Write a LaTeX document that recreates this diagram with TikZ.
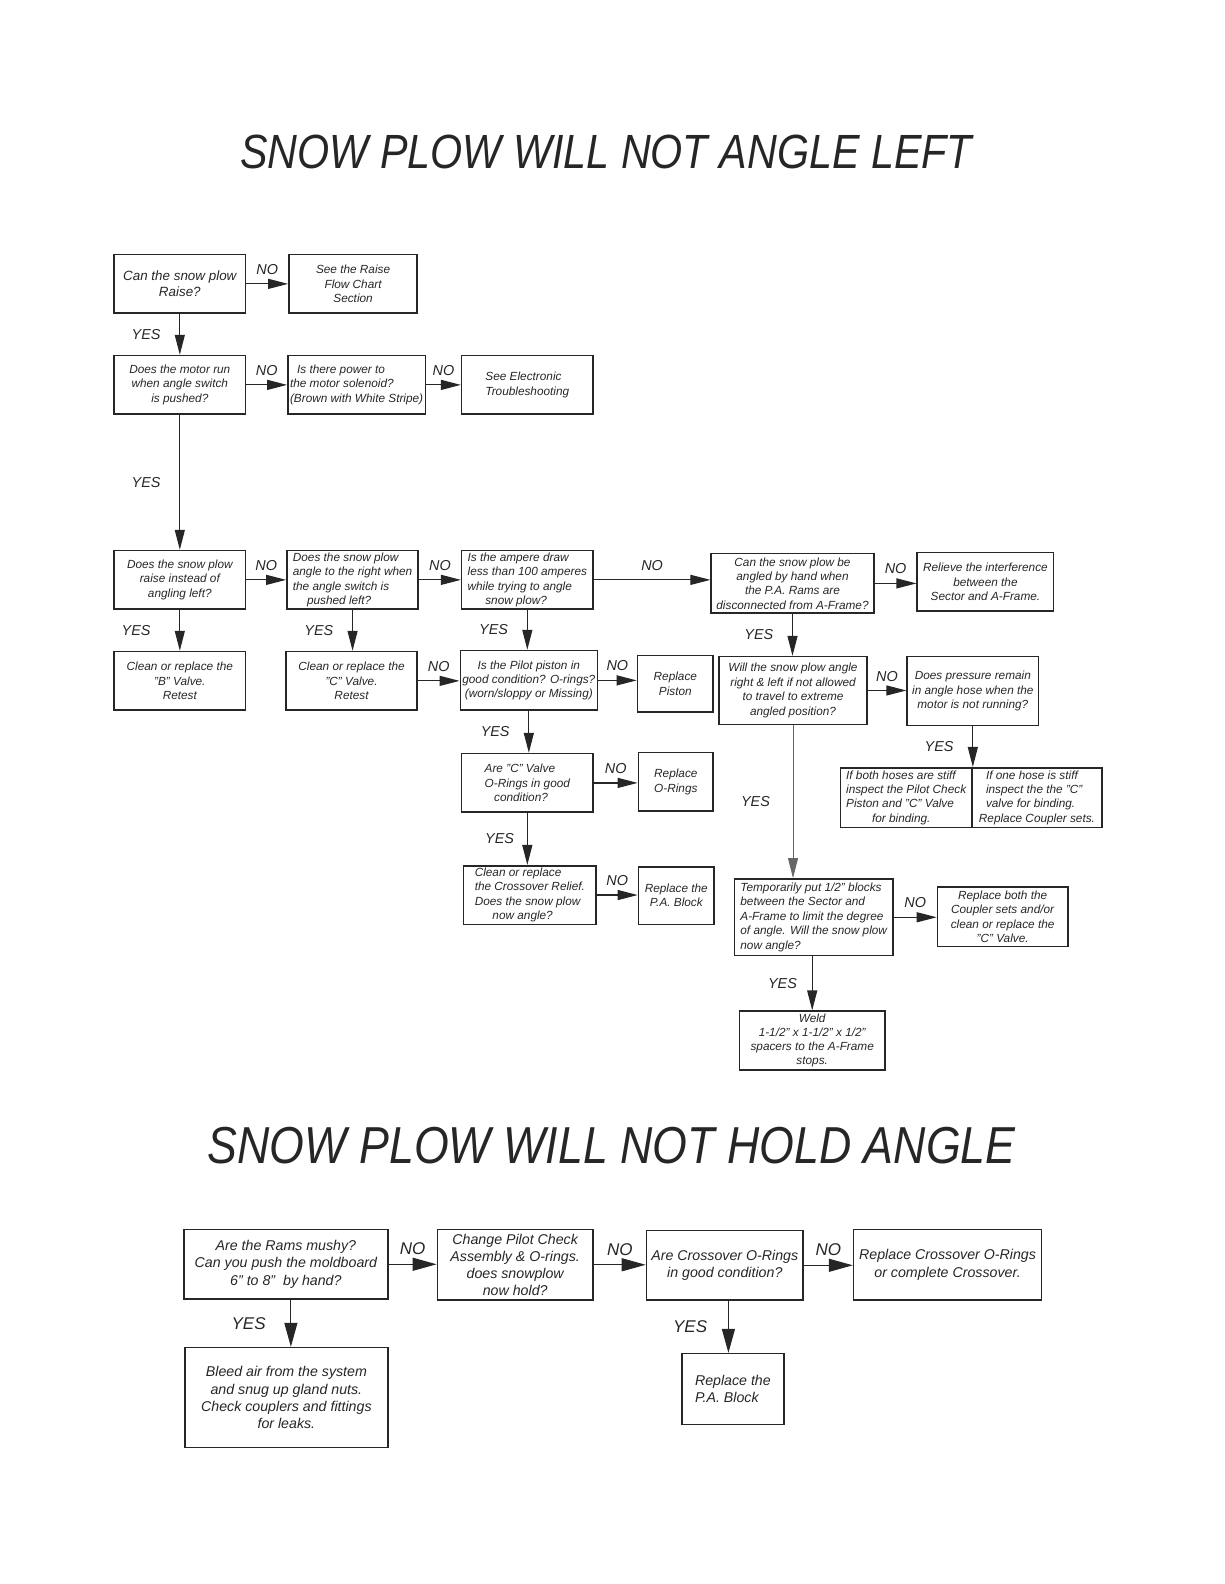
\documentclass[tikz,border=0pt]{standalone}
\usepackage{graphicx}
\usepackage{fontspec}
\setmainfont{Liberation Sans}
\usetikzlibrary{arrows.meta,positioning,calc}
\definecolor{ink}{HTML}{262626}
\newcommand\chartfont{\fontsize{5.9}{7.2}\selectfont\itshape}
\newcommand\raisefont{\fontsize{6.7}{8.1}\selectfont\itshape}
\newcommand\holdfont{\fontsize{7.1}{8.6}\selectfont\itshape}
\newcommand\ansfont{\fontsize{7.2}{8}\selectfont\itshape}
\newcommand\bigansfont{\fontsize{8.5}{9}\selectfont\itshape}
\newcommand\titlefont{\fontsize{24}{28}\selectfont\itshape}
\newcommand\bigtitlefont{\fontsize{26}{30}\selectfont\itshape}

\begin{document}
\begin{tikzpicture}[
  x=0.505pt,y=-0.505pt,
  >={Triangle[length=10pt,width=5pt]},
  qbox/.style={draw=ink,line width=0.8pt,align=center,inner xsep=1pt,inner ysep=1pt,
    font=\chartfont,text=ink,minimum width=130*0.505pt,minimum height=58*0.505pt},
  lbox/.style={qbox,align=left},
  wh/.style 2 args={minimum width=#1*0.505pt,minimum height=#2*0.505pt},
  flow/.style={draw=ink,line width=0.6pt,->},
  bigflow/.style={flow,>={Triangle[length=12pt,width=6.5pt]}},
  no/.style={above=1pt,font=\ansfont,text=ink},
  yes/.style={left=6pt,font=\ansfont,text=ink},
  bigno/.style={no,font=\bigansfont},
  bigyes/.style={yes,font=\bigansfont,left=9pt},
  title/.style={anchor=base,font=\titlefont,text=ink,inner sep=0pt}
]
\useasboundingbox (0,0) rectangle (1212,1568);

% titles
\node[title] (angleleft) at (600,167) {\scalebox{0.86}[1]{SNOW PLOW WILL NOT ANGLE LEFT}};
\node[title,font=\bigtitlefont] (holdangle) at (605.5,1152) {\scalebox{0.86}[1]{SNOW PLOW WILL NOT HOLD ANGLE}};

% will not angle left
\node[qbox,font=\raisefont] (raise) at (178,281) {Can the snow plow\\Raise?};
\node[qbox,wh={127}{58}] (raisechart) at (349.5,281) {See the Raise\\Flow Chart\\Section};
\node[qbox] (motor) at (178,381) {Does the motor run\\when angle switch\\is pushed?};
\node[lbox,wh={136}{58}] (power) at (353,381) {\hspace*{0.6em}Is there power to\\the motor solenoid?\\(Brown with White Stripe)};
\node[lbox] (electronic) at (522,381) {See Electronic\\Troubleshooting};
\node[qbox] (instead) at (178,574) {Does the snow plow\\raise instead of\\angling left?};
\node[lbox] (angleright) at (349,574) {Does the snow plow\\angle to the right when\\the angle switch is\\\hspace*{1.2em}pushed left?};
\node[lbox] (ampere) at (522,574) {Is the ampere draw\\less than 100 amperes\\while trying to angle\\\hspace*{1.5em}snow plow?};
\node[qbox,wh={161}{59}] (byhand) at (784.5,577.5) {Can the snow plow be\\angled by hand when\\the P.A. Rams are\\disconnected from A-Frame?};
\node[qbox,wh={135}{58}] (relieve) at (975.5,576) {Relieve the interference\\between the\\Sector and A-Frame.};
\node[qbox] (bvalve) at (178,674) {Clean or replace the\\"B" Valve.\\Retest};
\node[qbox] (cvalve) at (348,674) {Clean or replace the\\"C" Valve.\\Retest};
\node[qbox,wh={133}{59}] (pilot) at (523.5,673.5) {Is the Pilot piston in\\good condition? O-rings?\\(worn/sloppy or Missing)};
\node[qbox,wh={75}{56}] (piston) at (668.5,677) {Replace\\Piston};
\node[qbox,wh={146}{67}] (extreme) at (785,683.5) {Will the snow plow angle\\right \& left if not allowed\\to travel to extreme\\angled position?};
\node[qbox,wh={130}{68}] (pressure) at (963,684) {Does pressure remain\\in angle hose when the\\motor is not running?};
\node[lbox,wh={130}{59}] (bothhoses) at (897,789.5) {If both hoses are stiff\\inspect the Pilot Check\\Piston and "C" Valve\\\hspace*{2.2em}for binding.};
\node[lbox,wh={129}{59}] (onehose) at (1026.5,789.5) {\hspace*{0.6em}If one hose is stiff\\\hspace*{0.6em}inspect the the "C"\\\hspace*{0.6em}valve for binding.\\Replace Coupler sets.};
\node[lbox] (corings) at (522,775) {Are "C" Valve\\O-Rings in good\\\hspace*{0.8em}condition?};
\node[qbox,wh={74}{58}] (replorings) at (669,774) {Replace\\O-Rings};
\node[lbox,wh={131}{58}] (crossrelief) at (524.5,886) {Clean or replace\\the Crossover Relief.\\Does the snow plow\\\hspace*{1.5em}now angle?};
\node[qbox,wh={75}{57}] (pablock) at (669.5,886.5) {Replace the\\P.A. Block};
\node[lbox,wh={157}{76}] (blocks) at (805.5,908) {Temporarily put 1/2" blocks\\between the Sector and\\A-Frame to limit the degree\\of angle. Will the snow plow\\now angle?};
\node[qbox,wh={129}{59}] (coupler) at (992.5,907.5) {Replace both the\\Coupler sets and/or\\clean or replace the\\"C" Valve.};
\node[qbox,wh={144}{58},font=\fontsize{5.9}{7}\selectfont\itshape] (weld) at (804,1030) {Weld\\1-1/2" x 1-1/2" x 1/2"\\spacers to the A-Frame\\stops.};

\draw[flow] (raise.east) -- node[no]{NO} (raise.east -| raisechart.west);
\draw[flow] (raise.south) -- node[yes]{YES} (raise.south |- motor.north);
\draw[flow] (motor.east) -- node[no]{NO} (motor.east -| power.west);
\draw[flow] (power.east) -- node[no]{NO} (power.east -| electronic.west);
\draw[flow] (motor.south) -- node[yes]{YES} (motor.south |- instead.north);
\draw[flow] (instead.east) -- node[no]{NO} (instead.east -| angleright.west);
\draw[flow] (angleright.east) -- node[no]{NO} (angleright.east -| ampere.west);
\draw[flow] (ampere.east) -- node[no]{NO} (ampere.east -| byhand.west);
\draw[flow] (byhand.east) -- node[no]{NO} (byhand.east -| relieve.west);
\draw[flow] (instead.south) -- node[yes,left=11pt]{YES} (instead.south |- bvalve.north);
\draw[flow] (angleright.south) -- node[yes]{YES} (angleright.south |- cvalve.north);
\draw[flow] (ampere.south) -- node[yes]{YES} (ampere.south |- pilot.north);
\draw[flow] (byhand.south) -- node[yes]{YES} (byhand.south |- extreme.north);
\draw[flow] (cvalve.east) -- node[no]{NO} (cvalve.east -| pilot.west);
\draw[flow] (pilot.east) -- node[no]{NO} (pilot.east -| piston.west);
\draw[flow] (extreme.east) -- node[no]{NO} (extreme.east -| pressure.west);
\draw[flow] (pressure.south) -- node[yes]{YES} (pressure.south |- bothhoses.north);
\draw[flow] (pilot.south) -- node[yes]{YES} (pilot.south |- corings.north);
\draw[flow] (corings.east) -- node[no]{NO} (corings.east -| replorings.west);
\draw[flow] (corings.south) -- node[yes,left=3pt]{YES} (corings.south |- crossrelief.north);
\draw[flow] (crossrelief.east) -- node[no]{NO} (crossrelief.east -| pablock.west);
\draw[flow,line width=0.4pt,draw=ink!70] (extreme.south) -- node[yes,left=8pt]{YES} (extreme.south |- blocks.north);
\draw[flow] (blocks.east) -- node[no]{NO} (blocks.east -| coupler.west);
\draw[flow] (blocks.south -| weld.north) -- node[yes,left=4pt]{YES} (weld.north);

% will not hold angle
\node[qbox,font=\holdfont,wh={202}{69}] (mushy) at (283,1251.5) {Are the Rams mushy?\\Can you push the moldboard\\6" to 8"\ \ by hand?};
\node[qbox,font=\holdfont,wh={154}{70}] (pilotcheck) at (510,1252) {Change Pilot Check\\Assembly \& O-rings.\\does snowplow\\now hold?};
\node[qbox,font=\holdfont,wh={155}{69}] (crossover) at (717.5,1252.5) {Are Crossover O-Rings\\in good condition?};
\node[qbox,font=\holdfont,wh={186}{70}] (complete) at (938,1252) {Replace Crossover O-Rings\\or complete Crossover.};
\node[qbox,font=\holdfont,wh={201}{99}] (bleed) at (283.5,1383.5) {Bleed air from the system\\and snug up gland nuts.\\Check couplers and fittings\\for leaks.};
\node[lbox,font=\holdfont,wh={101}{70}] (pablocktwo) at (725.5,1375) {Replace the\\P.A. Block};

\draw[bigflow] (mushy.east) -- node[bigno]{NO} (mushy.east -| pilotcheck.west);
\draw[bigflow] (pilotcheck.east) -- node[bigno]{NO} (pilotcheck.east -| crossover.west);
\draw[bigflow] (crossover.east) -- node[bigno]{NO} (crossover.east -| complete.west);
\draw[bigflow] ([xshift=2.5pt]mushy.south) -- node[bigyes]{YES} ([xshift=2.5pt]mushy.south |- bleed.north);
\draw[bigflow] ([xshift=1.8pt]crossover.south) -- node[bigyes,left=7pt]{YES} ([xshift=1.8pt]crossover.south |- pablocktwo.north);
\end{tikzpicture}
\end{document}
